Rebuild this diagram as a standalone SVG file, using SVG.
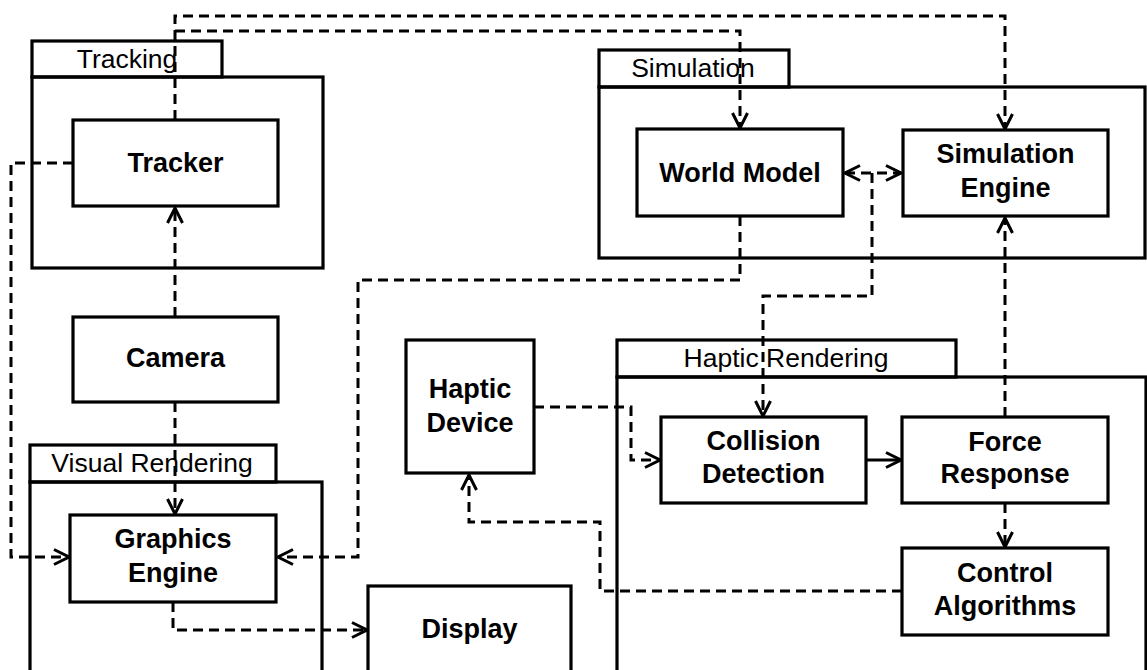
<svg xmlns="http://www.w3.org/2000/svg" width="1147" height="670" viewBox="0 0 1147 670">
  <style>
    .box { fill: #fff; stroke: #000; stroke-width: 3.2; }
    .pkg { fill: none; stroke: #000; stroke-width: 3.2; }
    .lbl { font-family: "Liberation Sans", Arial, Helvetica, sans-serif; font-size: 27px; font-weight: bold; text-anchor: middle; fill: #000; }
    .pkl { font-family: "Liberation Sans", Arial, Helvetica, sans-serif; font-size: 26.5px; text-anchor: middle; fill: #000; }
    .dash { fill: none; stroke: #000; stroke-width: 3; stroke-dasharray: 10 6; marker-end: url(#arr); }
    .solid { fill: none; stroke: #000; stroke-width: 3; marker-end: url(#arr); }
  </style>
  <defs>
    <!-- open V arrowhead, drawn in user units -->
    <marker id="arr" markerUnits="userSpaceOnUse" markerWidth="20" markerHeight="20" refX="17" refY="9" orient="auto-start-reverse">
      <path d="M2,1.5 L17,9 L2,16.5" fill="none" stroke="#000" stroke-width="3"/>
    </marker>
  </defs>
  <rect width="1147" height="670" fill="#fff"/>

  <!-- packages -->
  <g id="pkg-tracking">
    <rect class="pkg" x="32" y="41" width="190" height="36"/>
    <rect class="pkg" x="32" y="77" width="291" height="191"/>
    <text class="pkl" x="127" y="68">Tracking</text>
  </g>
  <g id="pkg-simulation">
    <rect class="pkg" x="599" y="50" width="190" height="37"/>
    <rect class="pkg" x="599" y="87" width="546" height="171"/>
    <text class="pkl" x="693" y="77">Simulation</text>
  </g>
  <g id="pkg-visual">
    <rect class="pkg" x="30" y="445" width="246" height="37"/>
    <rect class="pkg" x="30" y="482" width="292" height="200"/>
    <text class="pkl" x="152" y="472">Visual Rendering</text>
  </g>
  <g id="pkg-haptic">
    <rect class="pkg" x="617" y="340" width="339" height="37"/>
    <rect class="pkg" x="617" y="377" width="529" height="305"/>
    <text class="pkl" x="786" y="367">Haptic Rendering</text>
  </g>

  <!-- connectors -->
  <g id="connectors">
    <path class="dash" d="M175,120 V16 H1005 V129"/>
    <path class="dash" d="M175,31 H740 V128"/>
    <path class="dash" d="M845,173 H901" style="marker-start:url(#arr)"/>
    <path class="dash" d="M872,173 V296 H763 V416"/>
    <path class="dash" d="M740,216 V280 H358 V557 H278"/>
    <path class="dash" d="M1005,417 V218"/>
    <path class="dash" d="M175,317 V208"/>
    <path class="dash" d="M175,402 V514"/>
    <path class="dash" d="M73,163 H11 V557 H69"/>
    <path class="dash" d="M173,602 V630 H367"/>
    <path class="dash" d="M534,407 H631 V460 H660"/>
    <path class="solid" d="M866,460 H901"/>
    <path class="dash" d="M1005,503 V547"/>
    <path class="dash" d="M902,591 H600 V522 H469 V475"/>
  </g>

  <!-- nodes -->
  <g id="tracker">
    <rect class="box" x="73" y="120" width="205" height="86"/>
    <text class="lbl" x="175.5" y="172">Tracker</text>
  </g>
  <g id="world-model">
    <rect class="box" x="637" y="129" width="206" height="87"/>
    <text class="lbl" x="740" y="182">World Model</text>
  </g>
  <g id="simulation-engine">
    <rect class="box" x="903" y="130" width="205" height="86"/>
    <text class="lbl" x="1005.5" y="163">Simulation</text>
    <text class="lbl" x="1005.5" y="197">Engine</text>
  </g>
  <g id="camera">
    <rect class="box" x="73" y="317" width="205" height="85"/>
    <text class="lbl" x="175.5" y="367">Camera</text>
  </g>
  <g id="graphics-engine">
    <rect class="box" x="70" y="515" width="206" height="87"/>
    <text class="lbl" x="173" y="548">Graphics</text>
    <text class="lbl" x="173" y="582">Engine</text>
  </g>
  <g id="display">
    <rect class="box" x="368" y="586" width="203" height="100"/>
    <text class="lbl" x="469.5" y="638">Display</text>
  </g>
  <g id="haptic-device">
    <rect class="box" x="406" y="340" width="128" height="133"/>
    <text class="lbl" x="470" y="398">Haptic</text>
    <text class="lbl" x="470" y="432">Device</text>
  </g>
  <g id="collision-detection">
    <rect class="box" x="661" y="417" width="205" height="86"/>
    <text class="lbl" x="763.5" y="450">Collision</text>
    <text class="lbl" x="763.5" y="483">Detection</text>
  </g>
  <g id="force-response">
    <rect class="box" x="902" y="417" width="206" height="86"/>
    <text class="lbl" x="1005" y="451">Force</text>
    <text class="lbl" x="1005" y="483">Response</text>
  </g>
  <g id="control-algorithms">
    <rect class="box" x="902" y="548" width="206" height="87"/>
    <text class="lbl" x="1005" y="582">Control</text>
    <text class="lbl" x="1005" y="615">Algorithms</text>
  </g>
</svg>
